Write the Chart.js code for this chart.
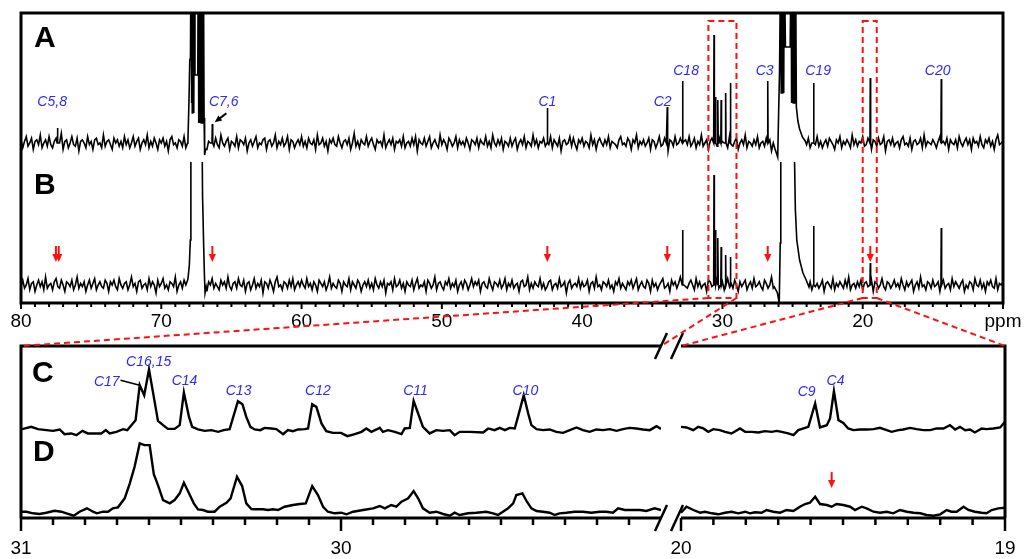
<!DOCTYPE html>
<html>
<head>
<meta charset="utf-8">
<script src="https://cdn.jsdelivr.net/npm/chart.js@4.4.0/dist/chart.umd.min.js"></script>
<style>
  html, body { margin: 0; padding: 0; background: #fff; }
  #wrap { position: relative; width: 1024px; height: 559px; overflow: hidden; }
  #wrap canvas { position: absolute; }
</style>
</head>
<body>
<div id="wrap">
  <canvas id="top" width="1024" height="340" style="left:0;top:0;width:1024px;height:340px"></canvas>
  <canvas id="botL" width="668" height="229" style="left:0;top:330px;width:668px;height:229px"></canvas>
  <canvas id="botR" width="356" height="229" style="left:668px;top:330px;width:356px;height:229px"></canvas>
  <canvas id="over" width="1024" height="559" style="left:0;top:0;width:1024px;height:559px"></canvas>
</div>
<script>
const FONT = '"Liberation Sans", Arial, Helvetica, sans-serif';
const BLUE = '#2a2aff';
const RED = '#ff1010';

// ---- top panel (80-10 ppm), traces A and B ----
// baseline noise, one value every 0.125 ppm from 80 ppm down to 10 ppm
const gridStart = 80, gridStep = 0.125;
const noiseA = [
  2,-3,1,4,-2,0,3,-4,1,2,-1,5,-3,0,2,-2,4,-1,-3,1,
  3,-2,0,6,-4,1,2,-3,0,4,-1,-2,3,-5,1,2,0,-3,4,-1,
  1,-4,2,3,-1,0,-3,5,-2,1,2,-1,-4,3,0,2,-2,1,-3,4,
  -1,2,-3,0,4,-2,1,3,-4,0,2,-1,5,-3,1,-2,3,0,-4,2,
  0,3,-2,1,-5,2,4,-1,0,-3,2,1,-2,4,-3,0,1,6,-2,-1,
  3,-3,0,2,-1,4,-4,1,0,2,-2,3,-1,-3,5,0,-2,1,3,-4,
  1,0,-2,4,-3,2,1,-1,3,-5,0,2,-2,1,4,-3,0,-1,2,3,
  -4,1,2,-2,0,5,-3,1,-1,3,-2,0,4,-4,2,1,-3,0,2,-1,
  4,-2,1,-3,3,0,-1,2,-4,5,-1,0,3,-2,1,-5,2,0,3,-1,
  -2,4,0,-3,1,2,-1,3,-4,0,6,-2,1,-3,2,0,-1,4,-2,1,
  3,-1,-4,2,0,1,-2,5,-3,0,2,-1,3,-4,1,0,2,-2,4,-3,
  0,1,-2,3,-1,4,-5,2,0,-1,3,-2,1,4,-3,0,2,-1,-3,5,
  -1,2,0,-4,3,1,-2,0,4,-3,2,-1,1,-2,3,0,-4,2,1,-1,
  3,-3,2,0,-1,4,-2,1,-3,5,0,-2,2,-1,3,-4,1,0,-2,3,
  -2,1,3,-4,0,2,-1,4,-3,1,0,-2,5,-1,2,-3,1,0,3,-2,
  1,-1,4,-3,2,0,-2,3,-5,1,2,-1,0,4,-2,3,-1,-4,2,0,
  3,-2,1,0,-3,5,-1,2,-4,1,3,0,-2,2,-1,4,-3,1,0,-1,
  -3,2,4,-1,0,-2,3,1,-4,2,0,5,-3,1,-1,2,-2,0,3,-4,
  2,1,-3,0,4,-2,-1,3,0,-5,2,1,-2,4,-1,0,3,-3,1,2,
  -1,4,-2,0,3,-3,1,-1,5,-2,0,2,-4,1,3,-1,0,-2,4,-3,
  1,0,2,-3,4,-1,-2,1,3,-4,0,2,-1,5,-3,1,0,-2,2,-1,
  4,-3,0,1,-2,3,-1,2,-5,0,3,1,-2,4,-1,-3,2,0,1,-2,
  3,-1,2,-4,0,1,5,-2,-1,3,-3,0,2,-1,4,-2,1,-3,0,2,
  -2,3,1,-1,-4,2,0,4,-3,1,-1,2,0,-3,5,-1,2,-2,1,0,
  4,-2,-1,3,0,-4,2,1,-2,3,-1,0,4,-5,1,2,-1,3,-2,0,
  1,-3,2,4,-1,0,-2,3,-4,1,2,-1,0,3,-3,5,-2,1,0,-1,
  2,0,-3,1,4,-2,1,-1,3,-4,2,0,-1,2,-3,4,0,-2,1,3,
  -1,2,-4,3,0,1,-2,4,-1,-3,2,0,3,-2,1,-4,2,5,-1,0,
  1
];
const noiseB = [
  -1,3,-2,0,4,-3,1,2,-4,0,3,-1,2,-3,5,-2,0,1,-3,2,
  4,-1,-2,3,0,-4,2,1,-1,3,-3,0,5,-2,1,-1,2,-4,0,3,
  -2,1,4,-3,0,2,-1,-2,3,1,-4,2,0,3,-1,-3,4,0,-2,1,
  2,-3,0,5,-1,1,-4,2,3,-2,0,1,-3,4,-1,2,0,-5,3,-1,
  1,4,-2,0,-3,2,1,-1,5,-4,0,2,-2,3,-1,1,-3,0,4,-2,
  0,2,-3,1,3,-1,-4,2,0,4,-2,1,-1,-3,3,0,2,-2,5,-1,
  -3,1,2,-2,4,0,-1,3,-4,1,2,-3,0,4,-2,1,-1,3,-5,2,
  1,-2,3,0,-4,2,5,-1,0,-3,2,1,-2,3,-1,4,-3,0,2,-1,
  3,0,-2,4,-1,1,-3,2,0,-4,3,1,-1,2,-3,0,5,-2,1,-1,
  -2,3,1,-4,2,0,-1,4,-3,2,0,-2,3,1,-4,0,2,-1,3,-2,
  1,-3,4,0,-2,2,-1,3,-5,1,0,2,-3,4,-1,0,3,-2,1,-4,
  2,0,-1,3,-3,1,4,-2,0,-1,2,-4,3,1,-2,0,5,-3,1,2,
  -1,-3,2,0,4,-2,1,-1,3,-4,0,2,-2,3,1,-3,0,4,-1,2,
  0,3,-4,1,2,-1,-2,4,0,-3,2,1,-1,3,-2,0,4,-3,1,-1,
  3,-2,0,1,-4,2,3,-1,0,5,-3,1,-2,2,0,-1,4,-2,1,-3,
  -1,2,3,-3,0,1,-2,4,-1,0,2,-5,1,3,-2,0,1,-1,4,-2,
  2,-1,0,3,-4,1,2,-2,5,-1,0,-3,2,1,-1,3,-2,0,-4,2,
  0,4,-2,1,-1,-3,2,0,3,-2,1,4,-3,0,2,-1,-2,3,1,-4,
  3,-1,1,-3,0,2,4,-2,-1,1,-4,3,0,2,-2,1,5,-3,0,-1,
  -2,1,3,0,-3,4,-1,2,-2,0,1,-4,3,2,-1,0,-3,4,-2,1,
  2,-3,0,4,-1,1,-2,3,0,-4,2,-1,1,3,-3,0,2,-2,4,-1,
  0,2,-1,-3,3,1,-2,0,5,-2,1,-3,2,0,-1,4,-2,1,-3,2,
  -1,3,-2,1,0,-4,3,2,-1,0,2,-3,4,-1,1,-2,0,3,-4,1,
  2,0,-2,4,-3,1,-1,2,0,-2,3,-1,5,-3,0,1,-2,2,-1,3,
  -3,1,2,-1,0,3,-4,2,1,-2,0,4,-1,-3,2,1,-2,0,3,-1,
  1,-2,4,0,-3,2,-1,1,3,-4,0,2,-2,5,-1,0,-3,2,1,-2,
  3,-1,0,2,-4,1,3,-2,0,1,-3,4,-1,2,0,-2,1,3,-4,0,
  -2,2,1,-3,4,0,-1,3,-2,1,-4,2,0,3,-1,-2,4,-3,1,0,
  2
];
const NOISE_GAIN = 1.6;

// sharp lines [ppm, height above baseline]
const peaksA = [[77.4,15],[66.36,19],[42.48,35],[33.93,36],[32.84,62],[30.60,108],[30.49,46],
  [30.32,43],[30.09,43],[29.77,50],[29.43,60],[26.77,62],[23.5,60],[19.46,65],[14.40,64]];
const peaksB = [[32.84,55],[30.60,110],[30.49,55],[30.32,47],[30.09,38],[29.77,30],[29.43,28],
  [23.5,59],[19.46,22],[14.40,57]];

// solvent multiplets (run past the top, clipped) [ppm, height]
const solventA = [
  [[68.10,3],[68.03,40],[67.97,83],[67.92,85],[67.88,200],[67.85,40],[67.82,200],[67.79,30],
   [67.76,200],[67.73,40],[67.70,200],[67.67,30],[67.64,200],[67.60,68],[67.52,68],[67.40,68],
   [67.36,200],[67.33,20],[67.30,200],[67.27,20],[67.24,200],[67.21,20],[67.18,200],[67.15,20],
   [67.12,200],[67.09,20],[67.06,200],[67.03,30],[67.00,200],[66.95,25],[66.91,-12],[66.84,-6]],
  [[26.25,-6],[26.06,-14],[25.99,33],[25.93,71],[25.84,200],[25.81,50],[25.78,200],[25.75,50],
   [25.72,200],[25.69,50],[25.66,200],[25.63,50],[25.60,200],[25.57,200],[25.51,96],[25.17,96],
   [25.10,200],[25.07,40],[25.04,200],[25.01,40],[24.98,200],[24.95,40],[24.92,200],[24.89,40],
   [24.86,200],[24.83,40],[24.79,200],[24.73,36],[24.62,22],[24.50,14],[24.30,6],[24.10,2]]
];
const solventB = [
  [[68.25,0],[68.10,6],[68.00,20],[67.93,45],[67.89,200],[67.12,200],[67.06,90],[66.98,40],
   [66.93,12],[66.88,-8],[66.80,-2]],
  [[26.30,-2],[26.08,-8],[25.95,-18],[25.88,42],[25.84,200],[24.95,200],[24.80,75],[24.70,45],
   [24.50,25],[24.26,12],[24.03,5],[23.83,-2]]
];

const A_BASE = 160, B_BASE = 18, B_CLIP = 141;
const topMajor = [80, 70, 60, 50, 40, 30, 20, 10];
const topMajorText = ['80', '70', '60', '50', '40', '30', '20', 'ppm'];

// labels [text, ppm, height]
const annotTop = [['C5,8',77.78,201.3],['C7,6',65.55,201.3],['C1',42.48,201.3],['C2',34.26,201.3],
  ['C18',32.59,232.3],['C3',26.99,232.3],['C19',23.18,232.3],['C20',14.66,232.3]];
const arrowsB = [77.51, 77.31, 66.36, 42.48, 33.93, 26.77, 19.46];

// ---- bottom panel, expanded regions C (top trace) and D ----
const cLeft = [
  [31.000,88.7],[30.968,91.3],[30.947,89],[30.921,88],[30.900,87.3],[30.879,88.7],[30.864,84],[30.843,84.7],
  [30.827,83],[30.808,87.3],[30.791,84.7],[30.765,84.7],[30.749,84.7],[30.735,88],[30.723,84.7],[30.702,86.3],
  [30.681,89],[30.668,88],[30.642,98],[30.629,133],[30.615,123],[30.600,148.7],[30.585,121.3],[30.572,97.3],
  [30.556,93],[30.541,89.3],[30.520,89.3],[30.504,93],[30.491,125.7],[30.475,101.3],[30.465,91.3],[30.447,88.7],
  [30.426,87.3],[30.405,88],[30.384,86.3],[30.367,88],[30.348,89],[30.332,106.3],[30.322,117],[30.308,114],
  [30.296,101.3],[30.283,91.3],[30.270,88.7],[30.252,88],[30.239,90.3],[30.218,89.7],[30.202,89],[30.181,84],
  [30.166,88],[30.150,87],[30.134,88.7],[30.114,89],[30.103,89.7],[30.090,114],[30.077,111.3],[30.061,94.7],
  [30.046,87],[30.025,85.3],[30.000,85.3],[29.980,82],[29.957,84],[29.936,86.3],[29.921,89.7],[29.905,86.3],
  [29.889,88.7],[29.879,90.3],[29.869,86.3],[29.853,88],[29.832,86.3],[29.811,84],[29.801,89.7],[29.785,90.3],
  [29.773,117.3],[29.759,104.7],[29.744,91.3],[29.723,84.7],[29.702,88],[29.681,87.3],[29.660,88],[29.645,83],
  [29.629,86.3],[29.598,86.3],[29.556,85.7],[29.540,89.7],[29.520,88],[29.504,90.3],[29.488,88],[29.473,90.3],
  [29.457,89.7],[29.447,101.3],[29.429,123],[29.415,104.7],[29.405,93],[29.389,89],[29.369,88],[29.348,88.7],
  [29.327,86.3],[29.306,85.3],[29.285,88],[29.264,90.7],[29.244,88],[29.223,86.3],[29.202,88.7],[29.181,88],
  [29.160,89],[29.139,87.3],[29.119,89],[29.098,90.3],[29.077,89.7],[29.056,88.7],[29.035,88],[29.014,92],
  [29.000,89.3]
];
const dLeft = [
  [31.000,6.3],[30.983,6.3],[30.963,4.7],[30.942,4],[30.921,5.3],[30.895,7.3],[30.874,6.3],[30.858,4.7],
  [30.835,2.3],[30.817,6.3],[30.794,9.7],[30.775,6.3],[30.763,4.7],[30.744,6.3],[30.728,6.3],[30.713,9.7],
  [30.697,10.7],[30.676,19.7],[30.660,34.7],[30.645,51.3],[30.629,74.7],[30.614,73],[30.598,73],[30.585,44],
  [30.572,33],[30.556,18],[30.535,14.7],[30.520,18],[30.504,24.7],[30.491,35.3],[30.475,24.7],[30.460,14.7],
  [30.447,8.7],[30.431,8],[30.416,6.3],[30.395,6.3],[30.379,11.3],[30.358,15.3],[30.345,19.7],[30.325,41.3],
  [30.309,32],[30.296,14.7],[30.280,9],[30.269,8.7],[30.244,8.7],[30.228,8],[30.213,8.7],[30.197,8],
  [30.176,11.3],[30.150,13],[30.129,14],[30.110,14.7],[30.090,32],[30.072,23],[30.056,11.3],[30.041,6.3],
  [30.020,4.7],[29.999,5.3],[29.983,3.7],[29.962,6.3],[29.931,8],[29.900,9.7],[29.879,12],[29.863,9.7],
  [29.843,13],[29.827,11.3],[29.811,16.3],[29.790,19.7],[29.773,27],[29.759,19.7],[29.744,9.7],[29.723,5.3],
  [29.702,6.3],[29.681,4],[29.660,2.3],[29.645,5.3],[29.629,3],[29.603,4.7],[29.577,5.3],[29.546,6.3],
  [29.525,4.7],[29.509,3],[29.494,6.3],[29.478,9.7],[29.462,14.7],[29.452,23],[29.433,24.7],[29.419,16.3],
  [29.405,9.7],[29.389,7],[29.369,6.3],[29.348,5.3],[29.332,3],[29.317,4.7],[29.296,5.3],[29.270,6.3],
  [29.244,6.3],[29.218,5.3],[29.191,6.3],[29.171,6.3],[29.150,5.3],[29.134,9.7],[29.113,8],[29.093,8],
  [29.066,8],[29.046,7],[29.020,9.7],[29.000,8]
];
const cRight = [
  [20.000,91.3],[19.983,90.7],[19.962,88],[19.947,91.3],[19.931,89.7],[19.916,86.3],[19.900,89],[19.880,88],
  [19.864,86.3],[19.844,84.7],[19.818,89.7],[19.802,86.3],[19.782,86.3],[19.761,85.7],[19.741,87],[19.720,86.3],
  [19.705,87.3],[19.689,86.3],[19.669,84.7],[19.653,83],[19.638,88],[19.617,90.3],[19.607,91.3],[19.586,114.7],
  [19.571,90.7],[19.550,93],[19.540,99.7],[19.528,127],[19.514,98],[19.499,95.3],[19.484,89.7],[19.468,88],
  [19.448,88.7],[19.427,88.7],[19.406,89],[19.386,90.3],[19.365,88],[19.350,86.3],[19.329,88],[19.314,88.7],
  [19.293,90.3],[19.273,89],[19.252,88],[19.231,88],[19.211,89.7],[19.190,89.7],[19.170,93],[19.154,88.7],
  [19.139,91.3],[19.123,88],[19.108,88.7],[19.093,85.7],[19.072,89.7],[19.057,89],[19.036,89.7],[19.015,90.7],
  [19.000,96.3]
];
const dRight = [
  [20.000,5.3],[19.983,11.3],[19.962,8],[19.941,5.3],[19.926,6.3],[19.905,4.7],[19.885,3.7],[19.864,5.3],
  [19.844,6.3],[19.823,4.7],[19.802,6.3],[19.787,4.7],[19.772,5.7],[19.751,5.3],[19.736,8],[19.715,6.3],
  [19.694,5.3],[19.674,8],[19.653,7],[19.633,11.3],[19.617,14],[19.602,15.3],[19.586,21.3],[19.571,14],
  [19.550,13],[19.535,11.3],[19.520,14],[19.499,13],[19.478,11.3],[19.463,8],[19.442,11.3],[19.427,9.7],
  [19.406,6.3],[19.386,5.3],[19.365,6.3],[19.345,4.7],[19.324,8],[19.303,6.3],[19.282,5.3],[19.262,4.7],
  [19.242,3],[19.221,2.3],[19.200,3.7],[19.180,8],[19.165,6.3],[19.149,6.3],[19.128,11.3],[19.113,8],
  [19.093,6.3],[19.072,5.3],[19.057,4.7],[19.041,8],[19.021,9.7],[19.000,10.3]
];
const botMajorL = [31, 30], botMajorLText = ['31', '30'];
const botMajorR = [20, 19], botMajorRText = ['20', '19'];
const annotL = [['C17',30.732,135.7],['C16,15',30.601,155.7],['C14',30.489,137],['C13',30.32,127],
  ['C12',30.072,127],['C11',29.767,127],['C10',29.424,127]];
const annotR = [['C9',19.612,126.3],['C4',19.523,137]];
const arrowD = 19.535;

// ---------------------------------------------------------------

function buildTrace(noise, peaks, shapes, base) {
  const pts = [];
  noise.forEach((n, i) => {
    const x = gridStart - i * gridStep;
    if (shapes.some(s => x <= s[0][0] && x >= s[s.length - 1][0])) return;
    if (peaks.some(p => Math.abs(p[0] - x) < 0.04)) return;
    pts.push({ x: x, y: base + n * NOISE_GAIN });
  });
  shapes.forEach(s => s.forEach(p => pts.push({ x: p[0], y: base + p[1] })));
  peaks.forEach(p => {
    pts.push({ x: p[0] + 0.025, y: base }, { x: p[0], y: base + p[1] }, { x: p[0] - 0.025, y: base });
  });
  pts.sort((a, b) => b.x - a.x);
  return pts;
}

const toXY = arr => arr.map(p => ({ x: p[0], y: p[1] }));

function isMajor(list, v) {
  return list.findIndex(m => Math.abs(m - v) < 1e-6);
}

function drawTicks(chart, majors, minorLen, majorLen, width, skip) {
  const s = chart.scales.x, ctx = chart.ctx, b = chart.chartArea.bottom;
  ctx.save();
  ctx.strokeStyle = '#000';
  ctx.lineWidth = width;
  s.ticks.forEach(t => {
    if (skip && skip(t.value)) return;
    const x = s.getPixelForValue(t.value);
    ctx.beginPath();
    ctx.moveTo(x, b);
    ctx.lineTo(x, b + (isMajor(majors, t.value) >= 0 ? majorLen : minorLen));
    ctx.stroke();
  });
  ctx.restore();
}

function label(ctx, txt, x, y, font, color, align) {
  ctx.save();
  ctx.font = font;
  ctx.fillStyle = color;
  ctx.textAlign = align || 'center';
  ctx.textBaseline = 'middle';
  ctx.fillText(txt, x, y);
  ctx.restore();
}

function arrow(ctx, x1, y1, x2, y2, color, w, head) {
  const ang = Math.atan2(y2 - y1, x2 - x1);
  ctx.save();
  ctx.strokeStyle = color;
  ctx.fillStyle = color;
  ctx.lineWidth = w;
  ctx.beginPath();
  ctx.moveTo(x1, y1);
  ctx.lineTo(x2 - Math.cos(ang) * head * 0.8, y2 - Math.sin(ang) * head * 0.8);
  ctx.stroke();
  ctx.beginPath();
  ctx.moveTo(x2, y2);
  ctx.lineTo(x2 - Math.cos(ang) * head + Math.sin(ang) * head * 0.45,
             y2 - Math.sin(ang) * head - Math.cos(ang) * head * 0.45);
  ctx.lineTo(x2 - Math.cos(ang) * head - Math.sin(ang) * head * 0.45,
             y2 - Math.sin(ang) * head + Math.cos(ang) * head * 0.45);
  ctx.closePath();
  ctx.fill();
  ctx.restore();
}

function slash(ctx, cx, cy) {
  ctx.save();
  ctx.strokeStyle = '#000';
  ctx.lineWidth = 2.5;
  ctx.beginPath();
  ctx.moveTo(cx - 6, cy + 13);
  ctx.lineTo(cx + 6, cy - 13);
  ctx.stroke();
  ctx.restore();
}

const tickFont = { family: FONT, size: 19 };
const annFont = 'italic 14px ' + FONT;
const letterFont = 'bold 30px ' + FONT;

// clip trace B below the A trace
const clipB = {
  id: 'clipB',
  beforeDatasetDraw(chart, args) {
    if (args.index !== 1) return;
    const a = chart.chartArea, y = chart.scales.y.getPixelForValue(B_CLIP);
    chart.ctx.save();
    chart.ctx.beginPath();
    chart.ctx.rect(a.left - 2, y, a.right - a.left + 4, a.bottom - y + 2);
    chart.ctx.clip();
  },
  afterDatasetDraw(chart, args) {
    if (args.index !== 1) return;
    chart.ctx.restore();
  }
};

const topDecor = {
  id: 'topDecor',
  afterDatasetsDraw(chart) {
    const { ctx, chartArea: a, scales: { x, y } } = chart;
    ctx.save();
    ctx.strokeStyle = '#000';
    ctx.lineWidth = 3;
    ctx.strokeRect(a.left, a.top, a.right - a.left, a.bottom - a.top);
    ctx.restore();
    drawTicks(chart, topMajor, 4, 6, 2);
    label(ctx, 'A', a.left + 13, y.getPixelForValue(264), letterFont, '#000', 'left');
    label(ctx, 'B', a.left + 13, y.getPixelForValue(117), letterFont, '#000', 'left');
    annotTop.forEach(l => label(ctx, l[0], x.getPixelForValue(l[1]), y.getPixelForValue(l[2]), annFont, BLUE));
    arrow(ctx, x.getPixelForValue(65.36), y.getPixelForValue(189.7),
               x.getPixelForValue(66.19), y.getPixelForValue(180.7), '#000', 2, 7);
    arrowsB.forEach(p => {
      const px = x.getPixelForValue(p);
      arrow(ctx, px, y.getPixelForValue(57), px, y.getPixelForValue(41), RED, 2, 8);
    });
  }
};

function bottomDecor(side) {
  return {
    id: 'botDecor' + side,
    afterDatasetsDraw(chart) {
      const { ctx, chartArea: a, scales: { x, y } } = chart;
      ctx.save();
      ctx.strokeStyle = '#000';
      ctx.lineWidth = 3;
      ctx.beginPath();
      ctx.moveTo(a.left, a.top); ctx.lineTo(a.right, a.top);
      ctx.moveTo(a.left, a.bottom); ctx.lineTo(a.right, a.bottom);
      if (side === 'L') { ctx.moveTo(a.left, a.top - 1.5); ctx.lineTo(a.left, a.bottom); }
      else { ctx.moveTo(a.right, a.top - 1.5); ctx.lineTo(a.right, a.bottom); }
      ctx.stroke();
      ctx.restore();
      if (side === 'L') {
        drawTicks(chart, botMajorL, 7, 13, 2.5, v => Math.abs(v - x.min) < 1e-6);
        slash(ctx, a.right, a.top);
        slash(ctx, a.right, a.bottom);
        label(ctx, 'C', a.left + 11, y.getPixelForValue(145), letterFont, '#000', 'left');
        label(ctx, 'D', a.left + 12, y.getPixelForValue(65.3), letterFont, '#000', 'left');
        annotL.forEach(l => label(ctx, l[0], x.getPixelForValue(l[1]), y.getPixelForValue(l[2]), annFont, BLUE));
        ctx.save();
        ctx.strokeStyle = '#000';
        ctx.lineWidth = 1.5;
        ctx.beginPath();
        ctx.moveTo(x.getPixelForValue(30.689), y.getPixelForValue(138));
        ctx.lineTo(x.getPixelForValue(30.629), y.getPixelForValue(133));
        ctx.stroke();
        ctx.restore();
      } else {
        drawTicks(chart, botMajorR, 7, 13, 2.5);
        slash(ctx, a.left - 4, a.top);
        slash(ctx, a.left - 4, a.bottom);
        annotR.forEach(l => label(ctx, l[0], x.getPixelForValue(l[1]), y.getPixelForValue(l[2]), annFont, BLUE));
        const px = x.getPixelForValue(arrowD);
        arrow(ctx, px, y.getPixelForValue(46), px, y.getPixelForValue(30), RED, 2, 8);
      }
    }
  };
}

function lineSet(data, width) {
  return { data: data, borderColor: '#000', borderWidth: width, pointRadius: 0, tension: 0, fill: false };
}

// label offset comes from an invisible tick length so it does not widen the side padding
function xScale(min, max, step, majors, texts, height, offset) {
  return {
    type: 'linear', reverse: true, min: min, max: max,
    afterFit: s => { s.height = height; },
    grid: { display: false, drawTicks: true, tickLength: offset },
    border: { display: false },
    ticks: {
      stepSize: step, autoSkip: false, maxRotation: 0, padding: 0,
      font: tickFont, color: '#000',
      callback: v => { const i = isMajor(majors, v); return i >= 0 ? texts[i] : ''; }
    }
  };
}

const common = {
  responsive: false, animation: false, events: [],
  plugins: { legend: { display: false }, tooltip: { enabled: false } }
};

const topChart = new Chart(document.getElementById('top'), {
  type: 'line',
  data: { datasets: [
    lineSet(buildTrace(noiseA, peaksA, solventA, A_BASE), 1.6),
    lineSet(buildTrace(noiseB, peaksB, solventB, B_BASE), 1.6)
  ] },
  options: Object.assign({}, common, {
    layout: { padding: { left: 21, right: 21, top: 13, bottom: 0 } },
    scales: {
      x: xScale(10, 80, 1, topMajor, topMajorText, 37, 7),
      y: { display: false, min: 0, max: 290 }
    }
  }),
  plugins: [clipB, topDecor]
});

const botL = new Chart(document.getElementById('botL'), {
  type: 'line',
  data: { datasets: [lineSet(toXY(cLeft), 2.4), lineSet(toXY(dLeft), 2.4)] },
  options: Object.assign({}, common, {
    layout: { padding: { left: 21, right: 7, top: 16, bottom: 0 } },
    scales: {
      x: xScale(29, 31, 0.1, botMajorL, botMajorLText, 41, 19),
      y: { display: false, min: 0, max: 172.3 }
    }
  }),
  plugins: [bottomDecor('L')]
});

const botR = new Chart(document.getElementById('botR'), {
  type: 'line',
  data: { datasets: [lineSet(toXY(cRight), 2.4), lineSet(toXY(dRight), 2.4)] },
  options: Object.assign({}, common, {
    layout: { padding: { left: 13, right: 19, top: 16, bottom: 0 } },
    scales: {
      x: xScale(19, 20, 0.1, botMajorR, botMajorRText, 41, 19),
      y: { display: false, min: 0, max: 172.3 }
    }
  }),
  plugins: [bottomDecor('R')]
});

// red dashed boxes in the top panel and guide lines to the expanded views
(function drawGuides() {
  const ctx = document.getElementById('over').getContext('2d');
  const xs = topChart.scales.x, ys = topChart.scales.y;
  const yT = ys.getPixelForValue(282), yB = ys.getPixelForValue(5);
  const zooms = [[31, 29, botL, 0], [20, 19, botR, 668]];
  ctx.strokeStyle = RED;
  ctx.lineWidth = 2;
  ctx.setLineDash([6, 4]);
  zooms.forEach(([hi, lo, chart, ox]) => {
    const x1 = xs.getPixelForValue(hi), x2 = xs.getPixelForValue(lo);
    const a = chart.chartArea;
    ctx.strokeRect(x1, yT, x2 - x1, yB - yT);
    ctx.beginPath();
    ctx.moveTo(x1, yB); ctx.lineTo(ox + a.left, 330 + a.top);
    ctx.moveTo(x2, yB); ctx.lineTo(ox + a.right, 330 + a.top);
    ctx.stroke();
  });
})();
</script>
</body>
</html>
